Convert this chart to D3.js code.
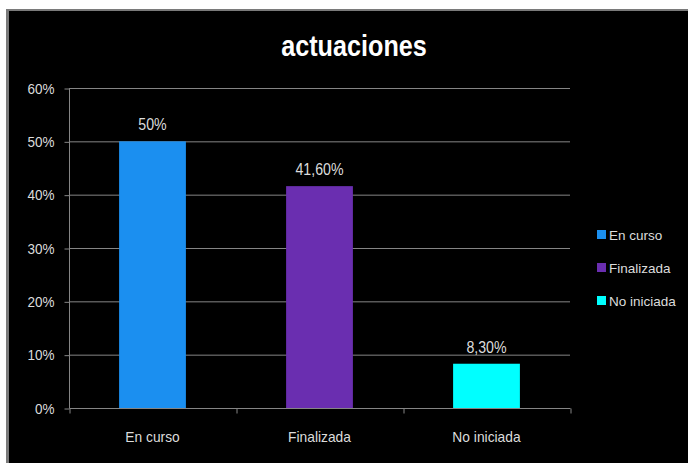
<!DOCTYPE html>
<html>
<head>
<meta charset="utf-8">
<script src="https://cdn.jsdelivr.net/npm/d3@7"></script>
<style>
  html, body { margin: 0; padding: 0; background: #ffffff; }
  svg { display: block; }
  text { font-family: "Liberation Sans", Arial, sans-serif; }
</style>
</head>
<body>
<svg id="chart" width="688" height="463"></svg>
<script>
// ---- data ----
const categories = ["En curso", "Finalizada", "No iniciada"];
const values = [0.50, 0.416, 0.083];
const valueLabels = ["50%", "41,60%", "8,30%"];
const colors = ["#1b8ff0", "#6a2eb0", "#00ffff"];
const yTicks = [0, 0.1, 0.2, 0.3, 0.4, 0.5, 0.6];
const yTickLabels = ["0%", "10%", "20%", "30%", "40%", "50%", "60%"];
const title = "actuaciones";

(function () {
const svg = d3.select("#chart");

// horizontally condense text around its own x anchor (Calibri-like width)
function condense(sel, sx) {
  sel.each(function () {
    const t = d3.select(this);
    const x0 = +(t.attr("x") || 0);
    t.attr("transform", `translate(${x0 * (1 - sx)},0) scale(${sx},1)`);
  });
}

// frame
svg.append("rect").attr("x", 6).attr("y", 9).attr("width", 700).attr("height", 480).attr("fill", "#7a7a7a");
svg.append("rect").attr("x", 9).attr("y", 11).attr("width", 700).attr("height", 480).attr("fill", "#000000");

const pL = 69, pR = 570, pT = 88, pB = 408;

const y = d3.scaleLinear().domain([0, 0.6]).range([pB, pT]);
const x = d3.scaleBand().domain(categories).range([pL, pR]).paddingInner(0.6).paddingOuter(0.3);
const xEdge = d3.scaleLinear().domain([0, categories.length]).range([pL, pR]);

const gridColor = "#858585";
const txtColor = "#dcdcdc";

// gridlines
svg.append("g").selectAll("line").data(yTicks.filter(d => d > 0)).join("line")
  .attr("x1", pL).attr("x2", pR)
  .attr("y1", d => y(d) + 0.5).attr("y2", d => y(d) + 0.5)
  .attr("stroke", gridColor).attr("stroke-width", 1);

// y axis
const yAxis = d3.axisLeft(y).tickValues(yTicks).tickSize(5).tickPadding(10)
  .tickFormat((d, i) => yTickLabels[i]);
const gy = svg.append("g").attr("transform", `translate(${pL + 0.5},0.5)`).call(yAxis);
gy.select(".domain").attr("stroke", gridColor).attr("d", `M0,${pT}V${pB}`);
gy.selectAll(".tick line").attr("stroke", gridColor);
gy.selectAll(".tick text").attr("fill", txtColor).attr("font-size", 15).attr("font-family", null);
condense(gy.selectAll(".tick text"), 0.9);

// bars
svg.append("g").selectAll("rect").data(values).join("rect")
  .attr("x", (d, i) => x(categories[i]))
  .attr("y", d => y(d))
  .attr("width", x.bandwidth())
  .attr("height", d => y(0) - y(d))
  .attr("fill", (d, i) => colors[i]);

// x axis baseline + edge ticks
const xAxis = d3.axisBottom(xEdge).tickValues(d3.range(categories.length + 1)).tickSize(5).tickFormat("");
const gx = svg.append("g").attr("transform", `translate(0.5,${pB + 0.5})`).call(xAxis);
gx.select(".domain").attr("stroke", gridColor).attr("d", `M${pL},0H${pR}`);
gx.selectAll(".tick line").attr("stroke", gridColor);

// category labels
const catAxis = d3.axisBottom(x).tickSize(0).tickPadding(23);
const gc = svg.append("g").attr("transform", `translate(0,${pB})`).call(catAxis);
gc.select(".domain").remove();
gc.selectAll(".tick text").attr("fill", txtColor).attr("font-size", 15).attr("font-family", null);
condense(gc.selectAll(".tick text"), 0.92);

// value labels
const vl = svg.append("g").selectAll("text").data(values).join("text")
  .attr("x", (d, i) => x(categories[i]) + x.bandwidth() / 2)
  .attr("y", d => y(d) - 11)
  .attr("text-anchor", "middle")
  .attr("fill", txtColor)
  .attr("font-size", 16.5)
  .text((d, i) => valueLabels[i]);
condense(vl, 0.86);

// title
const tt = svg.append("text").attr("x", 354).attr("y", 56).attr("text-anchor", "middle")
  .attr("fill", "#ffffff").attr("font-size", 30).attr("font-weight", "bold")
  .text(title);
condense(tt, 0.84);

// legend
const legend = svg.append("g").selectAll("g").data(categories).join("g")
  .attr("transform", (d, i) => `translate(597,${235 + i * 33})`);
legend.append("rect").attr("x", 0).attr("y", -5).attr("width", 9).attr("height", 9)
  .attr("fill", (d, i) => colors[i]);
legend.append("text").attr("x", 12).attr("y", 5).attr("fill", txtColor)
  .attr("font-size", 13.5).text(d => d);
})();
</script>
</body>
</html>
